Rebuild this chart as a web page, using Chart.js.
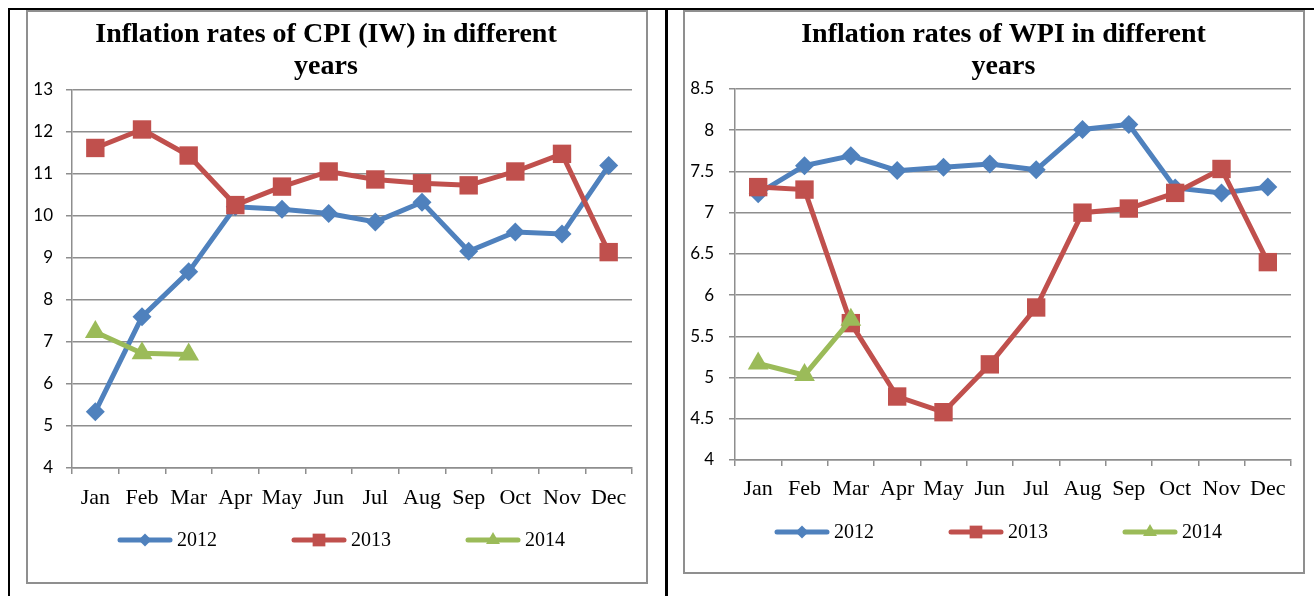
<!DOCTYPE html>
<html lang="en">
<head>
  <meta charset="UTF-8" />
  <title>Inflation rates of CPI (IW) and WPI</title>
  <script src="https://cdn.jsdelivr.net/npm/chart.js"></script>
  <style>
    * { box-sizing: border-box; margin: 0; padding: 0; }
    body { width: 1314px; height: 596px; background: #fff; position: relative; overflow: hidden; }
    .rule { position: absolute; background: #000; }
    .frame { position: absolute; border: 2px solid #8f8f8f; }
    .chart-box { position: absolute; }
  </style>
</head>
<body>
  <!-- table lines -->
  <div class="rule" style="left:8px; top:8px; width:1306px; height:2px;"></div>
  <div class="rule" style="left:8px; top:8px; width:2px; height:588px;"></div>
  <div class="rule" style="left:665px; top:8px; width:3px; height:588px;"></div>

  <!-- chart frames -->
  <div class="frame" style="left:26px; top:10px; width:622px; height:574px;"></div>
  <div class="frame" style="left:683px; top:10px; width:622px; height:564px;"></div>

  <div class="chart-box" style="left:27px; top:10px; width:620px; height:573px;"><canvas id="cpiChart"></canvas></div>
  <div class="chart-box" style="left:684px; top:10px; width:620px; height:563px;"><canvas id="wpiChart"></canvas></div>

  <script>
    const months = ['Jan', 'Feb', 'Mar', 'Apr', 'May', 'Jun', 'Jul', 'Aug', 'Sep', 'Oct', 'Nov', 'Dec'];
    const years = ['2012', '2013', '2014'];

    // CPI (IW)
    const cpi2012 = [5.34, 7.6, 8.67, 10.22, 10.16, 10.06, 9.86, 10.33, 9.16, 9.62, 9.57, 11.2];
    const cpi2013 = [11.62, 12.06, 11.44, 10.26, 10.7, 11.06, 10.87, 10.78, 10.73, 11.06, 11.48, 9.14];
    const cpi2014 = [7.24, 6.73, 6.7];

    // WPI
    const wpi2012 = [7.23, 7.57, 7.69, 7.51, 7.55, 7.59, 7.52, 8.01, 8.07, 7.3, 7.24, 7.31];
    const wpi2013 = [7.31, 7.28, 5.66, 4.77, 4.58, 5.16, 5.85, 7.0, 7.05, 7.24, 7.53, 6.4];
    const wpi2014 = [5.17, 5.03, 5.7];

    const colors = ['#4F81BD', '#C0504D', '#9BBB59'];
    const markers = ['rectRot', 'rect', 'triangle'];
    const markerSize = [9.5, 13, 12];
    const legendSize = [6.5, 9, 8];
    const gridGray = '#8e8e8e';

    // nudge the title sideways (the original is not centred on the chart)
    const titleShift = {
      id: 'titleShift',
      afterLayout(chart, args, opts) {
        const t = chart.titleBlock;
        if (t && opts.dx) { t.left += opts.dx; t.right += opts.dx; }
      }
    };

    // legend: thick line with the marker in the middle, then the label
    const lineLegend = {
      id: 'lineLegend',
      afterDraw(chart) {
        const ctx = chart.ctx;
        const sample = 56, gap = 4, spacing = 74;
        ctx.save();
        ctx.font = '20px "Liberation Serif"';
        const items = chart.data.datasets.map(ds => ({ ds, w: sample + gap + ctx.measureText(ds.label).width }));
        const total = items.reduce((s, it) => s + it.w, 0) + spacing * (items.length - 1);
        let x = chart.width / 2 + 4 - total / 2;
        const y = chart.chartArea.bottom + 72;
        items.forEach(({ ds, w }) => {
          ctx.strokeStyle = ds.borderColor;
          ctx.lineWidth = 5;
          ctx.lineCap = 'round';
          ctx.beginPath();
          ctx.moveTo(x + 3, y);
          ctx.lineTo(x + sample - 3, y);
          ctx.stroke();
          ctx.fillStyle = ds.borderColor;
          if (Chart.helpers && Chart.helpers.drawPoint) {
            Chart.helpers.drawPoint(ctx, { pointStyle: ds.pointStyle, radius: ds.legendRadius, borderWidth: 0, rotation: 0 }, x + sample / 2, y);
          }
          ctx.fillStyle = '#000';
          ctx.textAlign = 'left';
          ctx.textBaseline = 'middle';
          ctx.fillText(ds.label, x + sample + gap, y + 1);
          x += w + spacing;
        });
        ctx.restore();
      }
    };

    function makeDatasets(series) {
      return series.map((data, i) => ({
        label: years[i],
        data: data,
        borderColor: colors[i],
        backgroundColor: colors[i],
        pointBackgroundColor: colors[i],
        pointBorderColor: colors[i],
        pointBorderWidth: 0,
        borderWidth: 5,
        pointStyle: markers[i],
        pointRadius: markerSize[i],
        legendRadius: legendSize[i],
        tension: 0,
        clip: false,
        order: series.length - i
      }));
    }

    function makeChart(id, p) {
      new Chart(document.getElementById(id), {
        type: 'line',
        data: { labels: months, datasets: makeDatasets(p.series) },
        options: {
          responsive: true,
          maintainAspectRatio: false,
          animation: false,
          layout: { padding: { left: 0, right: p.padRight, top: 0, bottom: p.padBottom } },
          plugins: {
            legend: { display: false },
            tooltip: { enabled: false },
            titleShift: { dx: p.titleDx },
            title: {
              display: true,
              text: p.title,
              color: '#000',
              font: { family: '"Liberation Serif"', size: 28, weight: 'bold', lineHeight: 32 / 28 },
              padding: { top: 9, bottom: p.titleBottom }
            }
          },
          scales: {
            x: {
              offset: true,
              afterFit: s => { s.height = 50; },
              border: { display: true, color: gridGray, width: 1.5 },
              grid: { offset: true, drawOnChartArea: false, drawTicks: true, tickLength: 6, color: gridGray, lineWidth: 1.5 },
              ticks: { color: '#000', maxRotation: 0, autoSkip: false, padding: p.xPad, font: { family: '"Liberation Serif"', size: 22 } }
            },
            y: {
              min: p.min,
              max: p.max,
              afterFit: s => { s.width = p.axisWidth; },
              border: { display: true, color: gridGray, width: 1.5 },
              grid: { color: gridGray, lineWidth: 1.5, drawTicks: true, tickLength: 6 },
              ticks: {
                stepSize: p.step, color: '#000', padding: p.tickPad,
                font: { family: 'Lato', size: 17 },
                callback: v => String(Math.round(v * 10) / 10)
              }
            }
          }
        },
        plugins: [titleShift, lineLegend]
      });
    }

    makeChart('cpiChart', {
      title: ['Inflation rates of CPI (IW) in different', 'years'],
      series: [cpi2012, cpi2013, cpi2014],
      min: 4, max: 13, step: 1,
      padRight: 15, padBottom: 65, axisWidth: 45, tickPad: 13, titleBottom: 7, titleDx: -3.5, xPad: 11
    });

    makeChart('wpiChart', {
      title: ['Inflation rates of WPI in different', 'years'],
      series: [wpi2012, wpi2013, wpi2014],
      min: 4, max: 8.5, step: 0.5,
      padRight: 11, padBottom: 63, axisWidth: 51, tickPad: 15, titleBottom: 6, titleDx: 15, xPad: 10
    });
  </script>
</body>
</html>
